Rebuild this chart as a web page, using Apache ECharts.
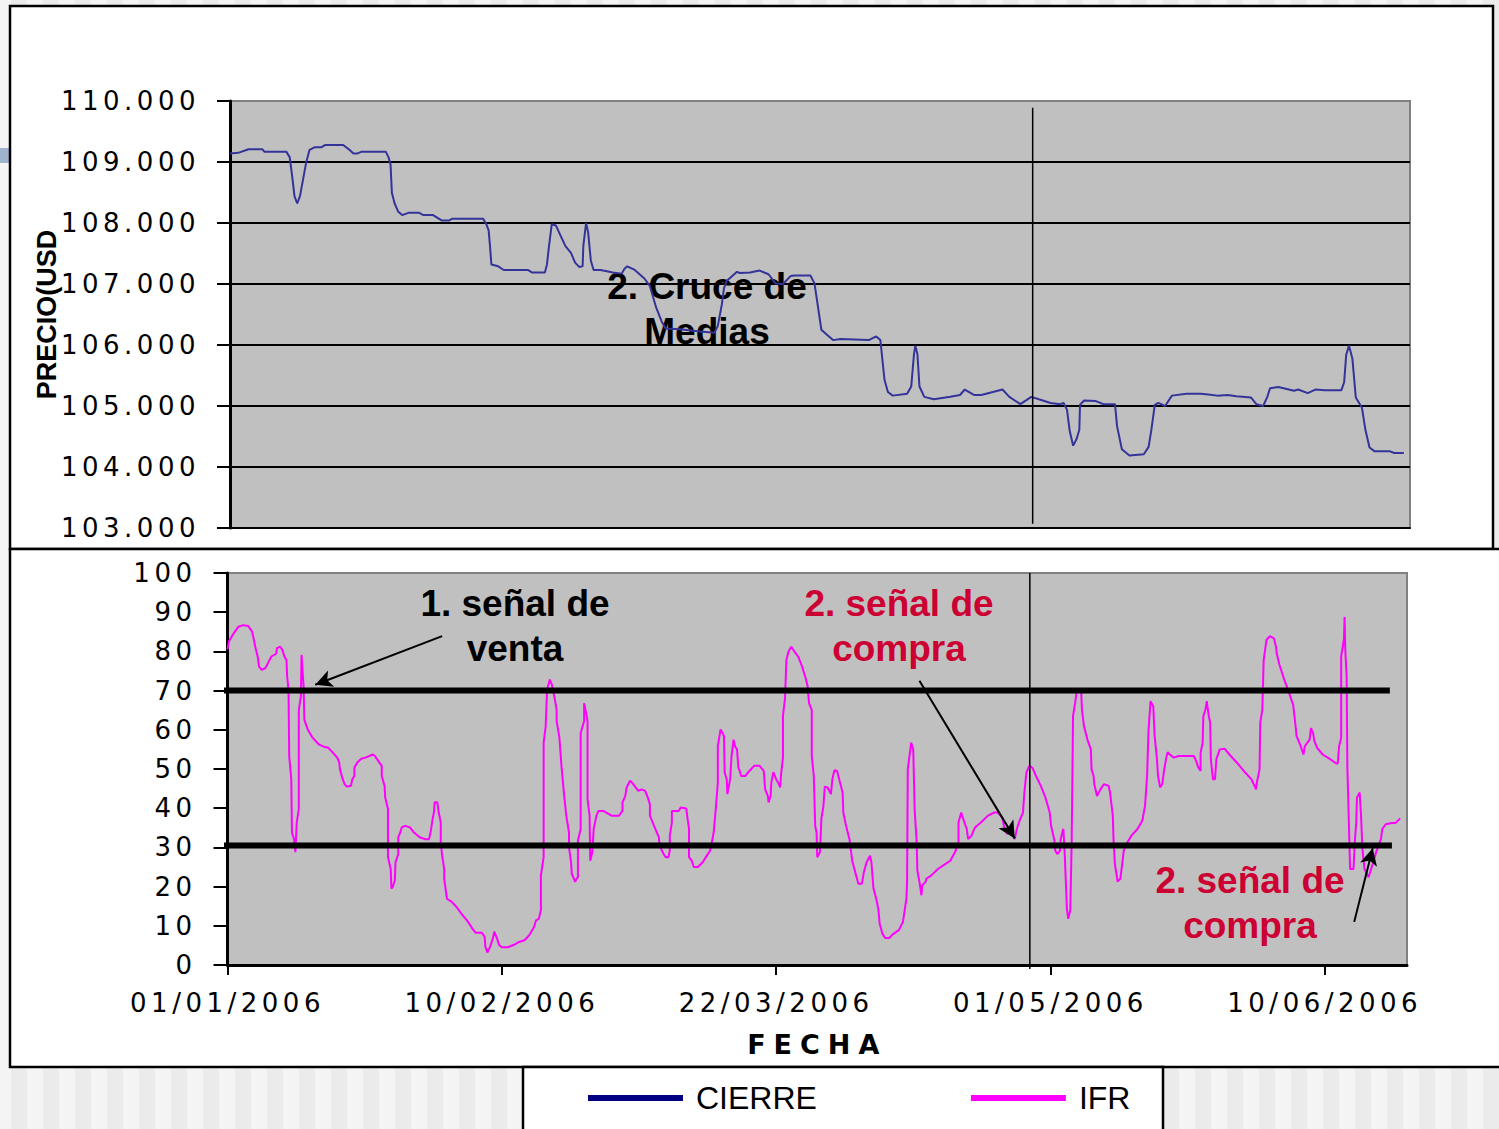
<!DOCTYPE html>
<html lang="es">
<head>
<meta charset="utf-8">
<title>Cierre e IFR 2006</title>
<script src="https://cdn.jsdelivr.net/npm/echarts@6/dist/echarts.min.js"></script>
<style>
  html, body { margin: 0; padding: 0; }
  body {
    background: repeating-linear-gradient(90deg, #ebebeb 0 16px, #f4f4f4 16px 32px);
    background-position: 11px 0;
  }
  #grafico { width: 1499px; height: 1129px; }
  /* el original sale estirado en horizontal, se imita con espaciado */
  #grafico text[style*="DejaVu"] { letter-spacing: 4.5px; }
  #grafico text[style*="bold"][style*="DejaVu"] { letter-spacing: 8px; }
</style>
</head>
<body>
<div id="grafico"></div>
<script>
// dia 0 = 01/01/2006
const fechaInicio = Date.UTC(2006, 0, 1)
const diaFinal = 172
const diasEtiqueta = [0, 40, 80, 120, 160]

// [dia, precio]
const cierre = [
  [0, 109.14], [1.2, 109.15], [2.7, 109.21], [4.7, 109.21], [5.0, 109.17], [8.2, 109.17],
  [8.7, 109.08], [9.1, 108.73], [9.4, 108.44], [9.8, 108.32], [10.2, 108.44], [11.1, 108.99],
  [11.6, 109.2], [12.3, 109.24], [13.3, 109.24], [13.9, 109.28], [16.5, 109.28], [17.4, 109.2],
  [18.0, 109.14], [18.6, 109.14], [19.2, 109.17], [22.7, 109.17], [23.1, 109.08], [23.4, 108.96],
  [23.6, 108.49], [24.0, 108.32], [24.5, 108.19], [25.1, 108.13], [26.1, 108.17], [27.5, 108.17],
  [28.2, 108.13], [29.6, 108.13], [30.9, 108.04], [31.9, 108.04], [32.4, 108.07], [36.9, 108.07],
  [37.4, 107.97], [37.7, 107.88], [37.9, 107.62], [38.1, 107.32], [39.1, 107.29], [39.9, 107.23],
  [43.4, 107.23], [44.0, 107.19], [45.9, 107.19], [46.2, 107.32], [46.5, 107.62], [46.9, 107.98],
  [47.5, 107.96], [48.2, 107.79], [48.9, 107.62], [49.7, 107.51], [50.3, 107.35], [50.9, 107.28],
  [51.4, 107.29], [51.5, 107.62], [51.9, 108.0], [52.2, 107.85], [52.6, 107.38], [53.0, 107.23],
  [54.0, 107.23], [54.4, 107.22], [55.8, 107.19], [57.1, 107.17], [57.5, 107.25], [57.9, 107.29],
  [59.0, 107.23], [60.4, 107.09], [61.2, 106.97], [62.1, 106.62], [62.9, 106.39], [63.5, 106.27],
  [65.6, 106.26], [68.5, 106.22], [70.6, 106.2], [71.1, 106.31], [71.7, 106.67], [72.0, 106.93],
  [72.4, 107.05], [73.9, 107.2], [74.3, 107.18], [75.8, 107.19], [77.2, 107.22], [78.5, 107.16],
  [79.5, 107.01], [80.6, 107.0], [81.7, 107.13], [82.3, 107.14], [84.6, 107.14], [85.2, 107.01],
  [85.5, 106.78], [86.2, 106.25], [86.8, 106.19], [87.9, 106.08], [89.0, 106.1], [93.1, 106.08],
  [94.2, 106.14], [94.8, 106.08], [95.4, 105.43], [95.9, 105.23], [96.6, 105.17], [98.7, 105.2],
  [99.3, 105.32], [99.7, 105.85], [99.9, 105.99], [100.2, 105.85], [100.5, 105.32], [101.2, 105.15],
  [102.6, 105.11], [105.0, 105.15], [106.4, 105.18], [107.1, 105.27], [108.5, 105.18], [109.5, 105.18],
  [110.5, 105.21], [112.6, 105.27], [113.6, 105.15], [115.2, 105.03], [116.8, 105.15], [117.9, 105.11],
  [119.6, 105.05], [121.0, 105.03], [121.5, 105.05], [122.0, 104.94], [122.4, 104.59], [122.9, 104.35],
  [123.4, 104.46], [123.8, 104.61], [123.9, 105.02], [124.5, 105.09], [126.2, 105.08], [127.3, 105.03],
  [129.0, 105.03], [129.3, 104.67], [130.0, 104.29], [131.1, 104.19], [133.2, 104.21], [133.9, 104.33],
  [134.3, 104.61], [134.8, 105.02], [135.3, 105.05], [136.3, 105.0], [137.3, 105.17], [139.4, 105.2],
  [141.5, 105.2], [142.6, 105.19], [143.9, 105.17], [145.4, 105.18], [146.7, 105.16], [148.8, 105.14],
  [149.6, 105.03], [150.6, 105.0], [151.2, 105.15], [151.6, 105.29], [152.8, 105.31], [155.1, 105.25],
  [155.7, 105.27], [157.1, 105.21], [158.2, 105.27], [159.6, 105.26], [162.0, 105.26], [162.4, 105.39],
  [162.7, 105.84], [163.1, 105.99], [163.6, 105.78], [164.1, 105.14], [165.0, 104.97], [165.5, 104.61],
  [166.1, 104.32], [166.8, 104.26], [169.0, 104.26], [169.7, 104.23], [171.1, 104.23]
]

// [dia, IFR]
const ifr = [
  [0, 80.5], [0.2, 82.5], [0.9, 84.6], [1.6, 86.3], [2.3, 86.7], [3.0, 86.5], [3.6, 85.0], [4.1, 80.8],
  [4.4, 78.7], [4.6, 76.1], [5.0, 75.3], [5.5, 75.7], [5.9, 77.0], [6.4, 78.7], [7.1, 79.4], [7.2, 80.8],
  [7.7, 81.2], [8.0, 80.4], [8.3, 78.7], [8.6, 77.8], [8.7, 73.6], [8.9, 70.2], [9.0, 53.3], [9.3, 47.4],
  [9.4, 33.8], [9.7, 32.1], [9.9, 28.8], [10.1, 36.4], [10.4, 39.8], [10.4, 65.1], [10.7, 68.5], [10.8, 79.1],
  [11.0, 73.6], [11.1, 71.1], [11.2, 62.6], [11.7, 60.1], [12.4, 58.0], [13.3, 56.3], [14.2, 55.6], [14.7, 55.4],
  [15.4, 54.1], [16.0, 52.9], [16.3, 51.6], [16.4, 49.9], [16.8, 47.4], [17.1, 46.1], [17.4, 45.5], [18.0, 45.7],
  [18.2, 47.4], [18.5, 48.2], [18.5, 50.3], [18.9, 51.6], [19.5, 52.6], [20.1, 52.9], [21.2, 53.7], [21.5, 53.3],
  [22.0, 52.0], [22.5, 50.8], [22.5, 48.2], [22.9, 45.7], [23.0, 42.7], [23.4, 39.8], [23.4, 27.5], [23.8, 24.5],
  [23.9, 19.5], [24.1, 19.9], [24.4, 21.6], [24.5, 26.2], [24.9, 28.3], [24.9, 32.6], [25.2, 33.8], [25.4, 35.1],
  [25.9, 35.5], [26.6, 35.1], [27.2, 33.8], [28.0, 32.6], [28.8, 32.1], [29.4, 32.1], [29.7, 34.7], [29.9, 37.2],
  [30.1, 38.9], [30.2, 41.5], [30.6, 41.5], [30.8, 38.9], [31.1, 36.4], [31.1, 31.3], [31.3, 27.9], [31.6, 24.5],
  [31.6, 22.0], [32.0, 16.9], [32.7, 16.1], [33.4, 14.8], [34.1, 13.1], [35.0, 11.2], [35.7, 9.3], [36.2, 8.2],
  [37.1, 8.2], [37.5, 7.2], [37.6, 4.7], [37.9, 3.2], [38.3, 4.7], [38.7, 6.8], [38.9, 8.5], [39.3, 6.8],
  [39.6, 5.1], [40.0, 4.5], [40.8, 4.5], [41.7, 5.1], [42.4, 5.8], [43.3, 6.3], [44.0, 7.6], [44.7, 9.7],
  [45.0, 11.4], [45.4, 11.8], [45.7, 14.0], [45.7, 22.8], [46.1, 27.5], [46.1, 56.7], [46.4, 60.9], [46.6, 70.2],
  [47.0, 72.8], [47.3, 71.5], [47.7, 68.1], [48.0, 65.1], [48.0, 62.2], [48.4, 58.0], [48.7, 50.8], [49.1, 43.1],
  [49.4, 38.1], [49.8, 33.8], [49.8, 30.0], [50.1, 26.2], [50.2, 23.3], [50.7, 21.2], [50.9, 22.0], [51.1, 22.4],
  [51.1, 31.7], [51.5, 34.7], [51.5, 59.2], [52.0, 62.2], [52.0, 66.8], [52.3, 64.3], [52.5, 62.2], [52.5, 42.3],
  [52.8, 38.1], [52.9, 26.6], [53.2, 28.8], [53.4, 34.7], [53.8, 38.1], [54.1, 39.3], [54.8, 39.3], [56.0, 38.1],
  [57.1, 38.1], [57.6, 39.3], [57.6, 41.5], [58.0, 43.1], [58.2, 45.3], [58.7, 47.0], [59.0, 46.5], [59.9, 44.4],
  [60.4, 44.8], [60.9, 44.4], [61.3, 42.7], [61.6, 41.0], [61.6, 38.1], [62.2, 35.5], [62.9, 32.6], [63.0, 30.5],
  [63.6, 28.3], [63.9, 27.5], [64.3, 27.5], [64.5, 29.2], [64.5, 33.0], [64.8, 36.4], [64.8, 39.3], [65.8, 39.3],
  [66.1, 40.2], [66.9, 39.9], [67.1, 37.2], [67.3, 34.7], [67.3, 27.5], [67.7, 26.6], [68.0, 25.0], [68.6, 25.0],
  [69.3, 26.2], [69.9, 27.9], [70.4, 29.2], [70.9, 33.8], [71.2, 39.8], [71.5, 46.5], [71.5, 55.8], [71.9, 60.1],
  [72.2, 59.2], [72.4, 58.4], [72.5, 49.1], [72.8, 47.4], [72.9, 43.6], [73.2, 46.5], [73.3, 47.4], [73.5, 53.3],
  [73.8, 57.5], [74.0, 55.8], [74.3, 55.0], [74.5, 50.3], [74.7, 49.5], [74.9, 48.2], [75.5, 48.2], [76.1, 49.5],
  [76.8, 50.8], [77.6, 50.8], [78.2, 49.5], [78.4, 44.8], [78.8, 43.1], [78.9, 41.5], [79.2, 43.1], [79.3, 46.5],
  [79.6, 49.2], [80.0, 47.4], [80.3, 46.5], [80.6, 45.3], [80.7, 48.2], [81.0, 52.9], [81.0, 63.5], [81.3, 68.1],
  [81.5, 77.8], [81.8, 79.9], [82.2, 81.2], [82.7, 79.9], [83.2, 78.7], [83.8, 76.1], [84.3, 73.2], [84.6, 71.1],
  [84.8, 66.8], [85.2, 65.1], [85.2, 53.3], [85.5, 48.2], [85.7, 35.5], [85.9, 33.8], [86.0, 27.5], [86.4, 28.8],
  [86.6, 37.2], [86.9, 40.6], [87.1, 45.5], [87.5, 45.3], [88.0, 43.6], [88.2, 47.4], [88.5, 49.7], [88.9, 49.5],
  [89.2, 47.4], [89.7, 44.0], [89.8, 38.9], [90.2, 35.5], [90.7, 32.1], [91.1, 26.6], [91.6, 23.3], [92.0, 20.7],
  [92.5, 20.7], [92.8, 23.7], [93.2, 26.2], [93.7, 27.9], [93.9, 26.2], [94.2, 19.5], [94.6, 16.9], [94.9, 14.4],
  [95.1, 10.6], [95.5, 8.0], [95.9, 6.9], [96.5, 6.9], [97.0, 7.8], [97.9, 8.9], [98.5, 11.0], [99.0, 16.9],
  [99.1, 21.2], [99.2, 49.9], [99.7, 56.7], [100.0, 55.0], [100.2, 39.8], [100.5, 31.3], [100.6, 24.1], [100.9, 21.2],
  [101.2, 17.8], [101.3, 20.3], [101.8, 21.2], [101.9, 22.0], [102.6, 22.8], [103.6, 24.5], [104.7, 25.8], [105.4, 26.6],
  [106.1, 28.8], [106.6, 31.3], [106.6, 36.4], [107.0, 38.9], [107.3, 37.2], [107.8, 34.7], [108.0, 32.1], [108.5, 33.0],
  [109.0, 35.1], [109.9, 36.4], [110.9, 38.1], [111.8, 38.9], [112.3, 38.9], [113.0, 37.6], [113.3, 34.7], [113.7, 33.4],
  [114.1, 34.7], [114.6, 33.0], [114.8, 32.1], [115.1, 34.7], [115.5, 36.8], [116.0, 38.9], [116.2, 44.0], [116.5, 49.1],
  [116.9, 50.8], [117.4, 50.3], [117.9, 48.2], [118.6, 45.7], [119.2, 43.1], [119.7, 40.2], [119.9, 38.9], [120.1, 35.5],
  [120.6, 31.7], [120.7, 29.2], [121.0, 28.3], [121.4, 29.2], [121.5, 32.1], [121.8, 34.3], [121.9, 34.7], [122.1, 27.9],
  [122.4, 14.4], [122.6, 11.8], [122.9, 14.0], [123.1, 31.3], [123.3, 63.5], [123.6, 66.8], [123.8, 69.4], [124.2, 70.2],
  [124.5, 69.4], [124.6, 65.1], [124.9, 60.9], [125.4, 57.5], [125.9, 55.0], [126.0, 49.9], [126.3, 48.2], [126.4, 46.1],
  [126.8, 43.1], [127.3, 44.8], [127.8, 46.1], [128.5, 45.7], [128.7, 44.0], [129.1, 38.1], [129.2, 32.1], [129.4, 25.8],
  [129.8, 21.3], [130.2, 22.0], [130.5, 26.2], [130.7, 29.2], [131.1, 30.9], [131.8, 33.0], [132.7, 34.7], [133.4, 36.8],
  [133.8, 40.6], [134.1, 48.2], [134.3, 59.6], [134.6, 67.3], [135.0, 66.0], [135.2, 58.4], [135.5, 53.3], [135.7, 48.2],
  [136.0, 45.3], [136.3, 46.1], [136.6, 49.9], [136.9, 52.9], [137.1, 54.3], [137.4, 53.7], [138.0, 52.9], [138.7, 53.3],
  [140.9, 53.3], [141.2, 52.3], [141.6, 50.3], [141.9, 49.5], [141.9, 54.1], [142.2, 56.7], [142.3, 63.5], [142.6, 65.1],
  [142.8, 67.3], [143.1, 63.5], [143.3, 61.8], [143.4, 52.5], [143.7, 47.4], [144.0, 47.4], [144.2, 52.5], [144.7, 55.0],
  [145.4, 55.2], [146.1, 53.7], [147.2, 51.6], [148.2, 49.5], [149.3, 47.4], [150.0, 44.8], [150.1, 46.5], [150.5, 49.9],
  [150.6, 61.8], [150.9, 65.1], [151.1, 77.8], [151.5, 82.9], [152.0, 83.9], [152.6, 83.3], [152.9, 81.2], [153.0, 79.5],
  [153.4, 76.6], [154.1, 72.8], [154.8, 69.4], [155.4, 66.4], [155.7, 61.8], [155.9, 58.4], [156.4, 56.3], [156.9, 53.7],
  [157.1, 55.8], [157.8, 57.5], [158.0, 60.4], [158.3, 59.2], [158.5, 57.1], [158.9, 55.4], [159.7, 53.7], [160.8, 52.5],
  [161.7, 51.4], [161.9, 51.4], [162.1, 55.8], [162.4, 58.0], [162.4, 78.7], [162.8, 83.1], [162.9, 88.8], [163.0, 80.4],
  [163.2, 73.6], [163.3, 50.8], [163.5, 38.1], [163.7, 24.5], [164.2, 24.5], [164.4, 31.7], [164.6, 36.4], [164.7, 42.7],
  [165.1, 44.0], [165.3, 38.1], [165.5, 29.6], [165.8, 24.5], [166.4, 22.4], [167.0, 25.8], [167.5, 28.8], [168.2, 32.1],
  [168.4, 34.7], [168.9, 35.9], [169.8, 36.2], [170.3, 36.2], [171.0, 37.4]
]

// lineas dibujadas a mano sobre el grafico
const nivelesIfr = [70, 30.5]
const tramosNiveles = [[-0.8, 169.5], [-0.8, 169.8]]
const diaLineaVertical = 117
const tramoVerticalPrecio = [109.89, 103.07]
const tramoVerticalIfr = [100, -1]
const flechas = [
  [[31.3, 83.9], [12.8, 71.5]],
  [[100.9, 72.5], [114.8, 32.3]],
  [[164.3, 11.0], [167.0, 29.8]]
]

const notas = [
  { texto: '2. Cruce de\nMedias', x: 707, y: 264, color: '#000000' },
  { texto: '1. señal de\nventa', x: 515, y: 581, color: '#000000' },
  { texto: '2. señal de\ncompra', x: 899, y: 581, color: '#cc0033' },
  { texto: '2. señal de\ncompra', x: 1250, y: 858, color: '#cc0033' }
]

function fechaTexto(dia) {
  const f = new Date(fechaInicio + Math.round(dia) * 86400000)
  const dd = String(f.getUTCDate()).padStart(2, '0')
  const mm = String(f.getUTCMonth() + 1).padStart(2, '0')
  return dd + '/' + mm + '/' + f.getUTCFullYear()
}

const fuenteEje = { fontFamily: 'DejaVu Sans', fontSize: 26, color: '#000' }
const marco = { fill: '#fff', stroke: '#000', lineWidth: 2.5 }

const chart = echarts.init(document.getElementById('grafico'), null, { renderer: 'svg' })

const option = {
  animation: false,
  graphic: [
    { type: 'rect', z: -10, shape: { x: 0, y: 148, width: 9, height: 15 }, style: { fill: '#9fb3cf' } },
    { type: 'rect', z: -10, shape: { x: 10, y: 6, width: 1483, height: 543 }, style: marco },
    { type: 'rect', z: -10, shape: { x: 10, y: 549, width: 1495, height: 518 }, style: marco },
    { type: 'rect', z: -10, shape: { x: 523, y: 1067, width: 640, height: 80 }, style: marco },
    ...notas.map((n) => ({
      type: 'text',
      z: 1,
      x: n.x,
      y: n.y,
      style: {
        text: n.texto,
        fill: n.color,
        font: 'bold 37px "Liberation Sans"',
        textAlign: 'center',
        textVerticalAlign: 'top',
        lineHeight: 45,
      },
    })),
  ],
  legend: {
    left: 588,
    top: 1082,
    padding: 0,
    icon: 'rect',
    itemWidth: 95,
    itemHeight: 6,
    itemGap: 154,
    selectedMode: false,
    itemStyle: { borderWidth: 0 },
    textStyle: { fontFamily: 'Liberation Sans', fontSize: 32, color: '#000', padding: [0, 0, 0, 8] },
    data: [
      { name: 'CIERRE', itemStyle: { color: '#000080' } },
      { name: 'IFR', itemStyle: { color: '#ff00ff' } },
    ],
  },
  grid: [
    {
      left: 230, top: 101, width: 1180, height: 427,
      show: true, backgroundColor: '#c0c0c0', borderColor: '#808080', borderWidth: 2,
      outerBoundsMode: 'none',
    },
    {
      left: 227.5, top: 573, width: 1179.5, height: 392,
      show: true, backgroundColor: '#c0c0c0', borderColor: '#808080', borderWidth: 2,
      outerBoundsMode: 'none',
    },
  ],
  xAxis: [
    {
      gridIndex: 0,
      type: 'value',
      min: 0,
      max: diaFinal,
      axisLine: { show: true, onZero: false, lineStyle: { color: '#000', width: 2 } },
      axisTick: { show: false },
      axisLabel: { show: false },
      splitLine: { show: false },
    },
    {
      gridIndex: 1,
      type: 'value',
      min: 0,
      max: diaFinal,
      name: 'FECHA',
      nameLocation: 'middle',
      nameGap: 66,
      nameTextStyle: { fontFamily: 'DejaVu Sans', fontWeight: 'bold', fontSize: 27, color: '#000' },
      axisLine: { show: true, onZero: false, lineStyle: { color: '#000', width: 3 } },
      axisTick: { show: true, length: 10, customValues: diasEtiqueta, lineStyle: { color: '#000', width: 2 } },
      axisLabel: { customValues: diasEtiqueta, margin: 25, formatter: fechaTexto, ...fuenteEje },
      splitLine: { show: false },
    },
  ],
  yAxis: [
    {
      gridIndex: 0,
      type: 'value',
      min: 103,
      max: 110,
      interval: 1,
      name: 'PRECIO(USD',
      nameLocation: 'middle',
      nameRotate: 90,
      nameGap: 170,
      nameTextStyle: { fontFamily: 'Liberation Sans', fontWeight: 'bold', fontSize: 27, color: '#000' },
      axisLine: { show: true, lineStyle: { color: '#000', width: 3 } },
      axisTick: { show: true, length: 13, lineStyle: { color: '#000', width: 2 } },
      axisLabel: { margin: 30, formatter: (v) => v.toFixed(3), ...fuenteEje },
      splitLine: { show: true, showMinLine: false, showMaxLine: false, lineStyle: { color: '#000', width: 2 } },
    },
    {
      gridIndex: 1,
      type: 'value',
      min: 0,
      max: 100,
      interval: 10,
      axisLine: { show: true, lineStyle: { color: '#000', width: 3 } },
      axisTick: { show: true, length: 14, lineStyle: { color: '#000', width: 2 } },
      axisLabel: { margin: 31, ...fuenteEje },
      splitLine: { show: false },
    },
  ],
  series: [
    {
      name: 'CIERRE',
      type: 'line',
      xAxisIndex: 0,
      yAxisIndex: 0,
      data: cierre,
      symbol: 'none',
      lineStyle: { color: '#333399', width: 2 },
      itemStyle: { color: '#000080' },
      emphasis: { disabled: true },
    },
    {
      name: 'IFR',
      type: 'line',
      xAxisIndex: 1,
      yAxisIndex: 1,
      data: ifr,
      symbol: 'none',
      lineStyle: { color: '#ff00ff', width: 2 },
      itemStyle: { color: '#ff00ff' },
      emphasis: { disabled: true },
      markLine: {
        silent: true,
        symbol: ['none', 'arrow'],
        symbolSize: [13, 17],
        label: { show: false },
        lineStyle: { color: '#000', width: 2, type: 'solid' },
        emphasis: { disabled: true },
        data: flechas.map((f) => [{ coord: f[0] }, { coord: f[1] }]),
      },
    },
    ...nivelesIfr.map((nivel, i) => ({
      name: 'nivel ' + nivel,
      type: 'line',
      xAxisIndex: 1,
      yAxisIndex: 1,
      data: [[tramosNiveles[i][0], nivel], [tramosNiveles[i][1], nivel]],
      symbol: 'none',
      clip: false,
      z: 3,
      silent: true,
      lineStyle: { color: '#000', width: 6 },
      emphasis: { disabled: true },
    })),
    {
      name: 'vertical precio',
      type: 'line',
      xAxisIndex: 0,
      yAxisIndex: 0,
      data: tramoVerticalPrecio.map((v) => [diaLineaVertical, v]),
      symbol: 'none',
      silent: true,
      lineStyle: { color: '#000', width: 1.5 },
      emphasis: { disabled: true },
    },
    {
      name: 'vertical ifr',
      type: 'line',
      xAxisIndex: 1,
      yAxisIndex: 1,
      data: tramoVerticalIfr.map((v) => [diaLineaVertical, v]),
      symbol: 'none',
      clip: false,
      silent: true,
      lineStyle: { color: '#000', width: 1.5 },
      emphasis: { disabled: true },
    },
  ],
}

chart.setOption(option)
</script>
</body>
</html>
